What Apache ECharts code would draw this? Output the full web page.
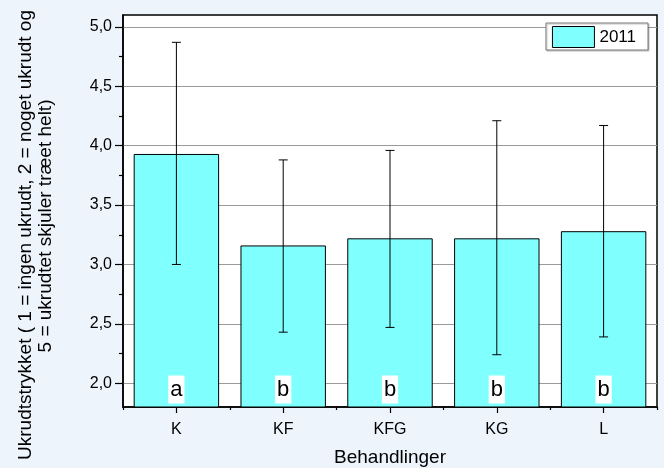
<!DOCTYPE html>
<html>
<head>
<meta charset="utf-8">
<script src="https://cdn.jsdelivr.net/npm/echarts@6/dist/echarts.min.js"></script>
<style>
html,body{margin:0;padding:0;background:#eef4fc;}
#c{width:664px;height:468px;}
</style>
</head>
<body>
<div id="c"></div>
<script>
const categories = ['K', 'KF', 'KFG', 'KG', 'L'];
const means = [3.93, 3.16, 3.22, 3.22, 3.28];
const errLow = [3.00, 2.43, 2.47, 2.24, 2.39];
const errHigh = [4.87, 3.88, 3.96, 4.21, 4.17];
const letters = ['a', 'b', 'b', 'b', 'b'];
const yTicks = [2.0, 2.5, 3.0, 3.5, 4.0, 4.5, 5.0];
const yMinorTicks = [2.25, 2.75, 3.25, 3.75, 4.25, 4.75];
const seriesName = '2011';
const xName = 'Behandlinger';
const yNameLine1 = 'Ukrudtstrykket ( 1 = ingen ukrudt, 2 = noget ukrudt og';
const yNameLine2 = '5 = ukrudtet skjuler træet helt)';

const FONT = "'Liberation Sans', Arial, sans-serif";
const chart = echarts.init(document.getElementById('c'), null, {renderer: 'canvas'});

const option = {
  backgroundColor: '#eef4fc',
  animation: false,
  textStyle: {fontFamily: FONT},
  grid: {
    left: 123, right: 7, top: 15, bottom: 61,
    outerBoundsMode: 'none',
    containLabel: false,
    show: true, backgroundColor: '#ffffff',
    borderColor: '#000', borderWidth: 1.5
  },
  legend: {
    right: 16, top: 23,
    padding: [3, 12, 2, 6],
    itemWidth: 42, itemHeight: 21,
    borderColor: '#7a7a7a', borderWidth: 1,
    backgroundColor: '#ffffff',
    shadowColor: 'rgba(0,0,0,0.25)', shadowOffsetX: 1, shadowOffsetY: 1, shadowBlur: 1,
    textStyle: {fontSize: 17, color: '#000', fontFamily: FONT},
    itemStyle: {borderColor: '#000', borderWidth: 1},
    data: [{name: seriesName, icon: 'rect'}]
  },
  xAxis: [{
    type: 'category',
    data: categories,
    position: 'bottom',
    name: xName,
    nameLocation: 'middle',
    nameGap: 41,
    nameTextStyle: {fontSize: 19, color: '#000', fontFamily: FONT},
    axisLine: {show: true, lineStyle: {color: '#000', width: 1.5}},
    axisTick: {show: true, alignWithLabel: true, length: 6, lineStyle: {color: '#000', width: 1.2}},
    axisLabel: {fontSize: 16, color: '#000', margin: 15, fontFamily: FONT},
    splitLine: {show: false}
  }, {
    type: 'category',
    data: categories,
    position: 'bottom',
    axisLine: {show: false},
    axisTick: {show: true, length: 3, lineStyle: {color: '#000', width: 1.2}},
    axisLabel: {show: false},
    splitLine: {show: false}
  }],
  yAxis: [{
    type: 'value',
    min: 1.8, max: 5.1,
    position: 'left',
    axisLine: {show: true, lineStyle: {color: '#000', width: 1.5}},
    axisTick: {show: true, length: 8, customValues: yTicks, lineStyle: {color: '#000', width: 1.2}},
    axisLabel: {
      fontSize: 16, color: '#000', margin: 11, fontFamily: FONT,
      customValues: yTicks,
      formatter: v => v.toFixed(1).replace('.', ',')
    },
    splitLine: {show: true, lineStyle: {color: '#9a9a9a', width: 1}}
  }, {
    type: 'value',
    min: 1.8, max: 5.1,
    position: 'left',
    axisLine: {show: false},
    axisTick: {show: true, length: 4, customValues: yMinorTicks, lineStyle: {color: '#000', width: 1.2}},
    axisLabel: {show: false},
    splitLine: {show: false}
  }],
  graphic: [{
    type: 'text',
    x: 26, y: 235,
    rotation: Math.PI / 2,
    style: {text: yNameLine1, fontSize: 19, fontFamily: FONT, fill: '#000', align: 'center', verticalAlign: 'middle'}
  }, {
    type: 'text',
    x: 46, y: 226,
    rotation: Math.PI / 2,
    style: {text: yNameLine2, fontSize: 19, fontFamily: FONT, fill: '#000', align: 'center', verticalAlign: 'middle'}
  }],
  series: [{
    name: seriesName,
    type: 'bar',
    xAxisIndex: 0, yAxisIndex: 0,
    barCategoryGap: '20%',
    data: means.map((v, i) => ({
      value: v,
      label: {formatter: letters[i]}
    })),
    itemStyle: {color: '#80ffff', borderColor: '#000', borderWidth: 1},
    label: {
      show: true,
      position: 'insideBottom',
      distance: 4,
      fontSize: 22,
      lineHeight: 24,
      color: '#000',
      fontFamily: FONT,
      backgroundColor: '#ffffff',
      padding: [2, 2, 2, 2]
    }
  }, {
    type: 'custom',
    xAxisIndex: 0, yAxisIndex: 0,
    z: 5,
    data: categories.map((c, i) => [i, errLow[i], errHigh[i]]),
    renderItem: function (params, api) {
      const i = api.value(0);
      const lo = api.coord([i, api.value(1)]);
      const hi = api.coord([i, api.value(2)]);
      const w = 4.5;
      const style = {stroke: '#000', lineWidth: 1};
      return {
        type: 'group',
        children: [
          {type: 'line', shape: {x1: lo[0], y1: lo[1], x2: hi[0], y2: hi[1]}, style: style},
          {type: 'line', shape: {x1: lo[0] - w, y1: lo[1], x2: lo[0] + w, y2: lo[1]}, style: style},
          {type: 'line', shape: {x1: hi[0] - w, y1: hi[1], x2: hi[0] + w, y2: hi[1]}, style: style}
        ]
      };
    }
  }]
};
chart.setOption(option);
</script>
</body>
</html>
